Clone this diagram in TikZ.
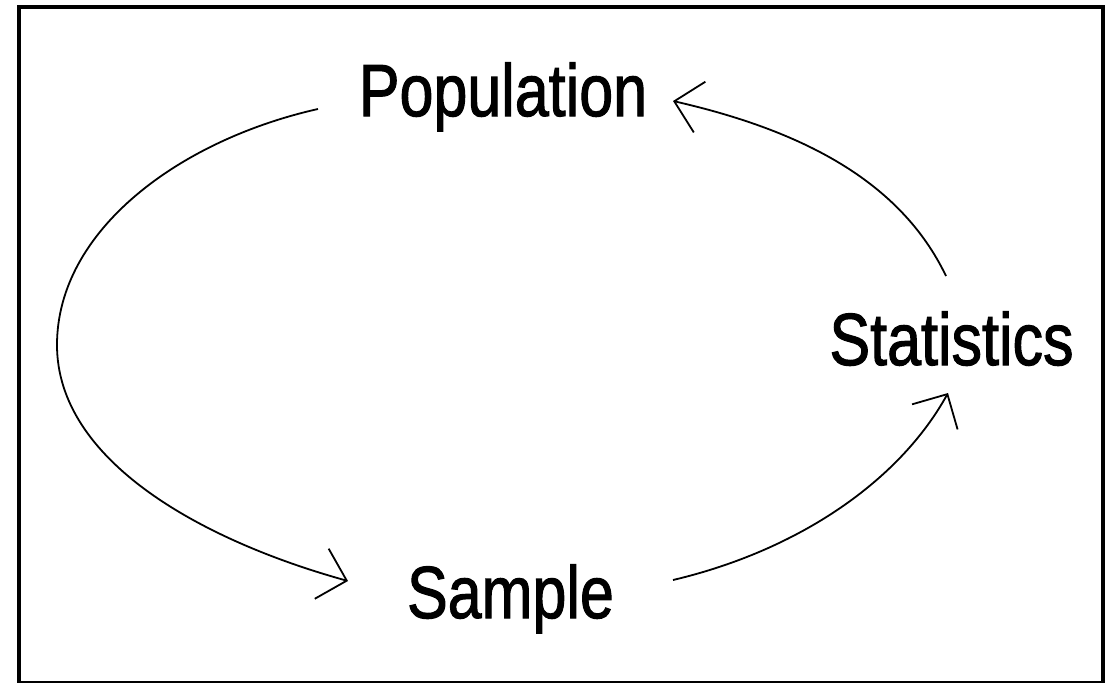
\documentclass[tikz,border=0pt]{standalone}
\usepackage{fontspec}
\setmainfont{Liberation Sans}
\newfontfamily\lblfont[FakeBold=1.6]{Liberation Sans}
\usetikzlibrary{arrows.meta}
\begin{document}
\begin{tikzpicture}[x=1pt,y=-1pt,
  lbl/.style={anchor=base, inner sep=0pt, font=\lblfont\fontsize{61}{70}\selectfont},
  conn/.style={line width=1.8pt, line join=round,
    -{Straight Barb[length=26pt,width=52pt,line width=1.8pt]}},
  frame/.style={line width=4.5pt}]
\useasboundingbox (0,0) rectangle (1109,683);
\fill[white] (0,0) rectangle (1109,683);
\draw[frame] (19,7) rectangle (1103,683);

\node[lbl] (pop)  at (503,116)   {\scalebox{1}[1.21]{Population}};
\node[lbl] (samp) at (510.5,618) {\scalebox{1}[1.21]{Sample}};
\node[lbl] (stat) at (951.5,365) {\scalebox{1}[1.21]{Statistics}};

\coordinate (c1s) at (318,109);
\coordinate (c1m) at (57,345);
\coordinate (c1e) at (348,581);
\coordinate (c2s) at (673,580);
\coordinate (c2e) at (948,393);
\coordinate (c3s) at (946,276);
\coordinate (c3e) at (673,101);

\draw[conn] (c1s) .. controls (180,140) and (57,230) .. (c1m)
                  .. controls (57,460) and (200,540) .. (c1e);

\draw[conn] (c2s) .. controls (800,550) and (900,480) .. (c2e);

\draw[conn] (c3s) .. controls (900,180) and (800,130) .. (c3e);
\end{tikzpicture}
\end{document}
